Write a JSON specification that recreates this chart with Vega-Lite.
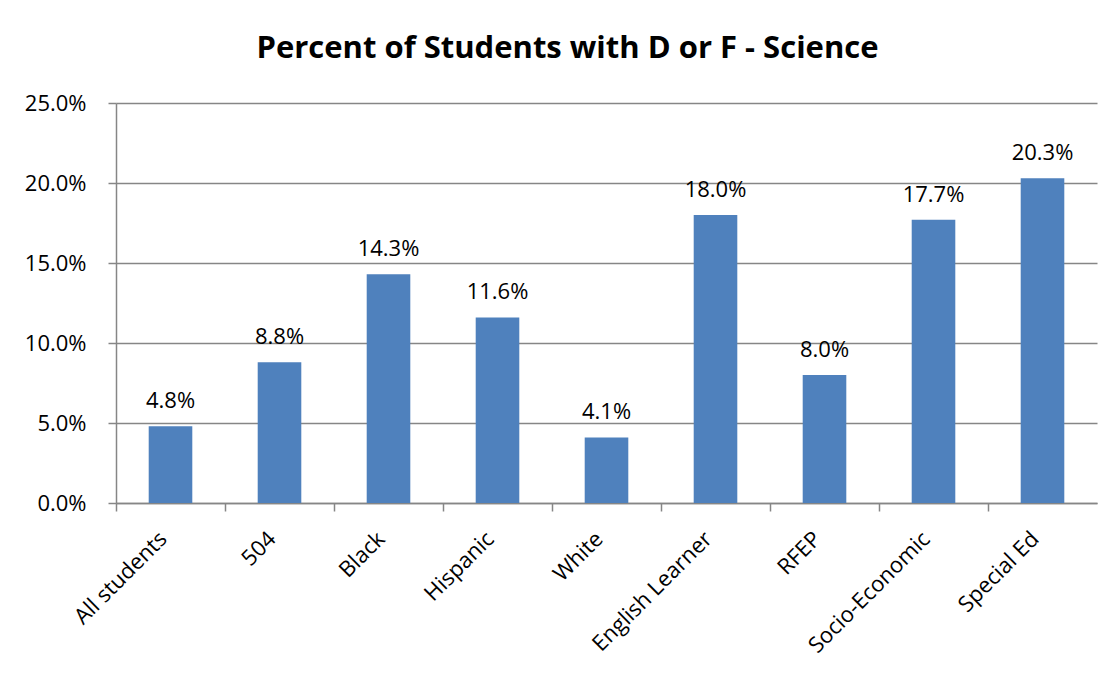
{
  "$schema": "https://vega.github.io/schema/vega-lite/v6.json",
  "width": 981,
  "height": 400,
  "autosize": {"type": "none"},
  "padding": {"left": 116, "top": 103, "right": 20, "bottom": 176},
  "background": "white",
  "title": {
    "text": "Percent of Students with D or F - Science",
    "font": "Open Sans",
    "fontSize": 31,
    "fontWeight": "bold",
    "color": "black",
    "anchor": "middle",
    "frame": "group",
    "dx": -39,
    "offset": 27
  },
  "config": {
    "view": {"stroke": null},
    "axis": {
      "labelFont": "Open Sans",
      "labelFontSize": 22,
      "labelColor": "black",
      "domainColor": "#868686",
      "domainWidth": 1.5,
      "tickColor": "#868686",
      "tickWidth": 1.5,
      "tickSize": 8,
      "gridColor": "#868686",
      "gridWidth": 1.5
    }
  },
  "data": {
    "values": [
      {"group": "All students", "pct": 0.048},
      {"group": "504", "pct": 0.088},
      {"group": "Black", "pct": 0.143},
      {"group": "Hispanic", "pct": 0.116},
      {"group": "White", "pct": 0.041},
      {"group": "English Learner", "pct": 0.18},
      {"group": "RFEP", "pct": 0.08},
      {"group": "Socio-Economic", "pct": 0.177},
      {"group": "Special Ed", "pct": 0.203}
    ]
  },
  "encoding": {
    "x": {
      "field": "group",
      "type": "nominal",
      "sort": null,
      "scale": {"paddingInner": 0.6, "paddingOuter": 0.3},
      "axis": {
        "title": null,
        "bandPosition": 0,
        "tickOffset": -32.7,
        "labelOffset": 25,
        "labelAngle": -45,
        "labelAlign": "right",
        "labelBaseline": "middle",
        "labelPadding": 24,
        "grid": false
      }
    },
    "y": {
      "field": "pct",
      "type": "quantitative",
      "scale": {"domain": [0, 0.25]},
      "axis": {
        "title": null,
        "format": ".1%",
        "values": [0, 0.05, 0.1, 0.15, 0.2, 0.25],
        "grid": true,
        "labelPadding": 22
      }
    }
  },
  "layer": [
    {"mark": {"type": "bar", "color": "#4F81BD"}},
    {
      "mark": {
        "type": "text",
        "font": "Open Sans",
        "fontSize": 22,
        "color": "black",
        "baseline": "bottom",
        "dy": -13
      },
      "encoding": {"text": {"field": "pct", "type": "quantitative", "format": ".1%"}}
    }
  ]
}
